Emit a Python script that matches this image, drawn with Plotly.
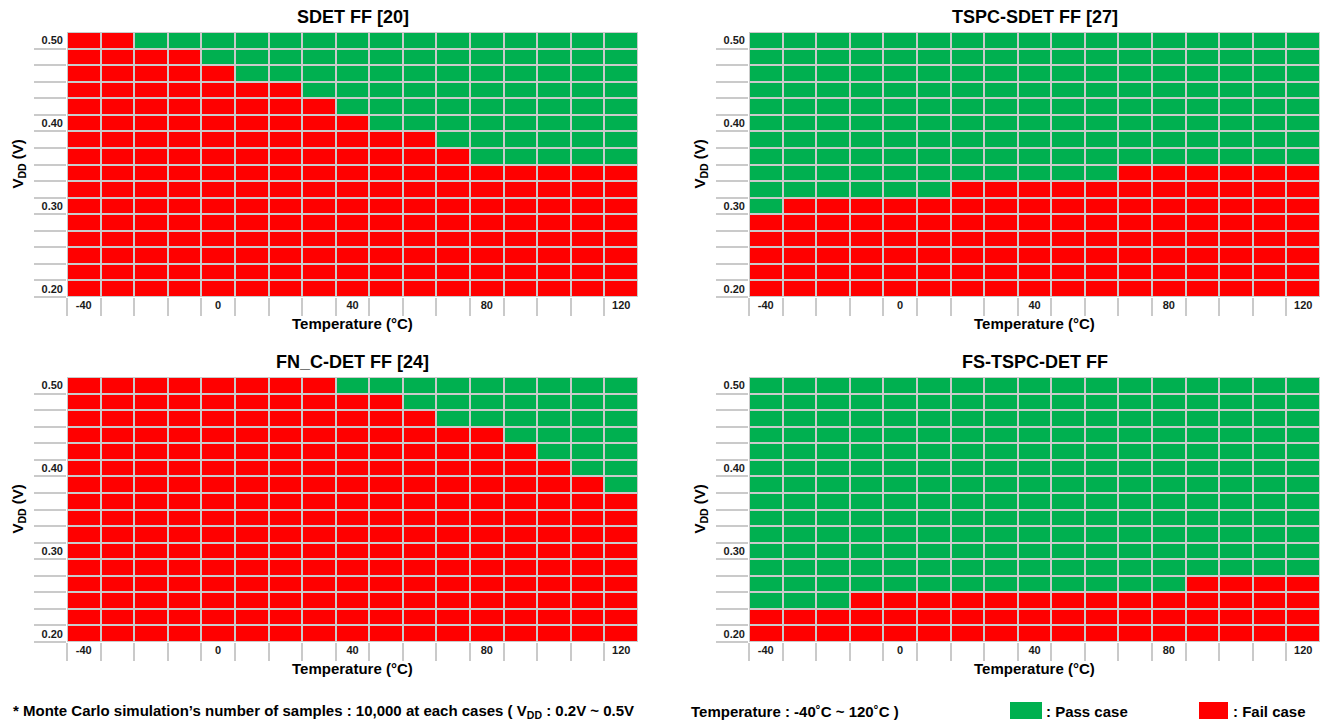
import plotly.graph_objects as go

# Temperature sweep (°C) and supply-voltage sweep (V)
temps = [-40, -30, -20, -10, 0, 10, 20, 30, 40, 50, 60, 70, 80, 90, 100, 110, 120]
vdd = [0.20, 0.22, 0.24, 0.26, 0.28, 0.30, 0.32, 0.34, 0.36, 0.38,
       0.40, 0.42, 0.44, 0.46, 0.48, 0.50]

# Lowest VDD that passes at each temperature (None = fails at every VDD)
sdet_min_pass = [None, None, 0.50, 0.50, 0.48, 0.46, 0.46, 0.44, 0.42,
                 0.40, 0.40, 0.38, 0.36, 0.36, 0.36, 0.36, 0.36]
tspc_sdet_min_pass = [0.30, 0.32, 0.32, 0.32, 0.32, 0.32, 0.34, 0.34, 0.34,
                      0.34, 0.34, 0.36, 0.36, 0.36, 0.36, 0.36, 0.36]
fnc_det_min_pass = [None, None, None, None, None, None, None, None, 0.50,
                    0.50, 0.48, 0.46, 0.46, 0.44, 0.42, 0.40, 0.38]
fs_tspc_det_min_pass = [0.24, 0.24, 0.24, 0.26, 0.26, 0.26, 0.26, 0.26, 0.26,
                        0.26, 0.26, 0.26, 0.26, 0.28, 0.28, 0.28, 0.28]

titles = ["SDET FF [20]", "TSPC-SDET FF [27]", "FN_C-DET FF [24]", "FS-TSPC-DET FF"]
series = [sdet_min_pass, tspc_sdet_min_pass, fnc_det_min_pass, fs_tspc_det_min_pass]

y_ticks = [0.20, 0.30, 0.40, 0.50]
y_ticktext = ["0.20", "0.30", "0.40", "0.50"]
x_ticks = [-40, 0, 40, 80, 120]
x_ticktext = ["-40", "0", "40", "80", "120"]

PASS = "#00b050"
FAIL = "#ff0000"
GRID = "#cacaca"
FONT = "Liberation Sans, Arial, sans-serif"

W, H = 1329, 722
# pixel boxes of the four plot areas: (left, right, top, bottom)
boxes = [(67, 638, 32, 297), (749, 1320, 32, 297),
         (67, 638, 377, 642), (749, 1320, 377, 642)]


def pass_matrix(min_pass):
    return [[1 if (m is not None and v >= m - 1e-9) else 0 for m in min_pass]
            for v in vdd]


x_step = temps[1] - temps[0]
y_step = round(vdd[1] - vdd[0], 4)
x_bounds = [t - x_step / 2 for t in temps]            # left edge + inner edges
y_bounds = [round(v - y_step / 2, 4) for v in vdd]    # bottom edge + inner edges

fig = go.Figure()
annotations = []

for k, (title, mp, box) in enumerate(zip(titles, series, boxes)):
    n = "" if k == 0 else str(k + 1)
    left, right, top, bottom = box
    fig.add_trace(go.Heatmap(
        x=temps, y=vdd, z=pass_matrix(mp),
        zmin=0, zmax=1,
        colorscale=[[0, FAIL], [0.5, FAIL], [0.5, PASS], [1, PASS]],
        showscale=False, xgap=2, ygap=2,
        xaxis="x" + n, yaxis="y" + n,
        hovertemplate="T=%{x}°C<br>VDD=%{y:.2f} V<extra></extra>",
    ))
    tickfont = dict(family=FONT, size=11, color="#1a1a1a", weight="bold")
    fig.layout["xaxis" + n] = dict(
        domain=[left / W, right / W], anchor="y" + n,
        range=[temps[0] - x_step / 2, temps[-1] + x_step / 2],
        tickmode="array", tickvals=x_ticks, ticktext=x_ticktext,
        ticks="", showgrid=False, zeroline=False, showline=False,
        tickfont=tickfont, fixedrange=True,
        minor=dict(tickmode="array", tickvals=x_bounds, ticks="outside",
                   ticklen=18, tickwidth=2, tickcolor=GRID, showgrid=False),
    )
    fig.layout["yaxis" + n] = dict(
        domain=[1 - bottom / H, 1 - top / H], anchor="x" + n,
        range=[vdd[0] - y_step / 2, vdd[-1] + y_step / 2],
        tickmode="array", tickvals=y_ticks, ticktext=y_ticktext,
        ticks="", showgrid=False, zeroline=False, showline=False,
        tickfont=tickfont, fixedrange=True, ticklabelstandoff=3,
        minor=dict(tickmode="array", tickvals=y_bounds, ticks="outside",
                   ticklen=32, tickwidth=2, tickcolor=GRID, showgrid=False),
    )
    cx = (left + right) / 2 / W
    # panel title
    annotations.append(dict(
        text=title, x=cx, y=1 - (top - 15) / H, xref="paper", yref="paper",
        xanchor="center", yanchor="middle", showarrow=False,
        font=dict(family=FONT, size=18, color="#000000", weight="bold")))
    # x-axis title
    annotations.append(dict(
        text="Temperature (°C)", x=cx, y=1 - (bottom + 26) / H,
        xref="paper", yref="paper", xanchor="center", yanchor="middle",
        showarrow=False,
        font=dict(family=FONT, size=15, color="#000000", weight="bold")))
    # y-axis title
    annotations.append(dict(
        text="V<sub>DD</sub> (V)", x=(left - 49) / W, y=1 - (top + bottom) / 2 / H,
        xref="paper", yref="paper", xanchor="center", yanchor="middle",
        textangle=-90, showarrow=False,
        font=dict(family=FONT, size=15, color="#000000", weight="bold")))

note_font = dict(family=FONT, size=15, color="#000000", weight="bold")
annotations += [
    dict(text="* Monte Carlo simulation’s number of samples : 10,000 at each cases "
              "( V<sub>DD</sub> : 0.2V ~ 0.5V",
         x=11 / W, y=1 - 711 / H, xref="paper", yref="paper",
         xanchor="left", yanchor="middle", showarrow=False, font=note_font),
    dict(text="Temperature : -40˚C ~ 120˚C )",
         x=689 / W, y=1 - 711 / H, xref="paper", yref="paper",
         xanchor="left", yanchor="middle", showarrow=False, font=note_font),
    dict(text=": Pass case", x=1044 / W, y=1 - 711 / H, xref="paper", yref="paper",
         xanchor="left", yanchor="middle", showarrow=False, font=note_font),
    dict(text=": Fail case", x=1231 / W, y=1 - 711 / H, xref="paper", yref="paper",
         xanchor="left", yanchor="middle", showarrow=False, font=note_font),
]

# colour key swatches
shapes = [
    dict(type="rect", xref="paper", yref="paper",
         x0=1010 / W, x1=1042 / W, y0=1 - 719 / H, y1=1 - 702 / H,
         fillcolor=PASS, line=dict(width=0)),
    dict(type="rect", xref="paper", yref="paper",
         x0=1199 / W, x1=1228 / W, y0=1 - 719 / H, y1=1 - 702 / H,
         fillcolor=FAIL, line=dict(width=0)),
]

fig.update_layout(
    width=W, height=H,
    margin=dict(l=0, r=0, t=0, b=0, autoexpand=False),
    paper_bgcolor="#ffffff", plot_bgcolor=GRID,
    showlegend=False,
    annotations=annotations, shapes=shapes,
    font=dict(family=FONT),
)

fig.write_html("out.html")
